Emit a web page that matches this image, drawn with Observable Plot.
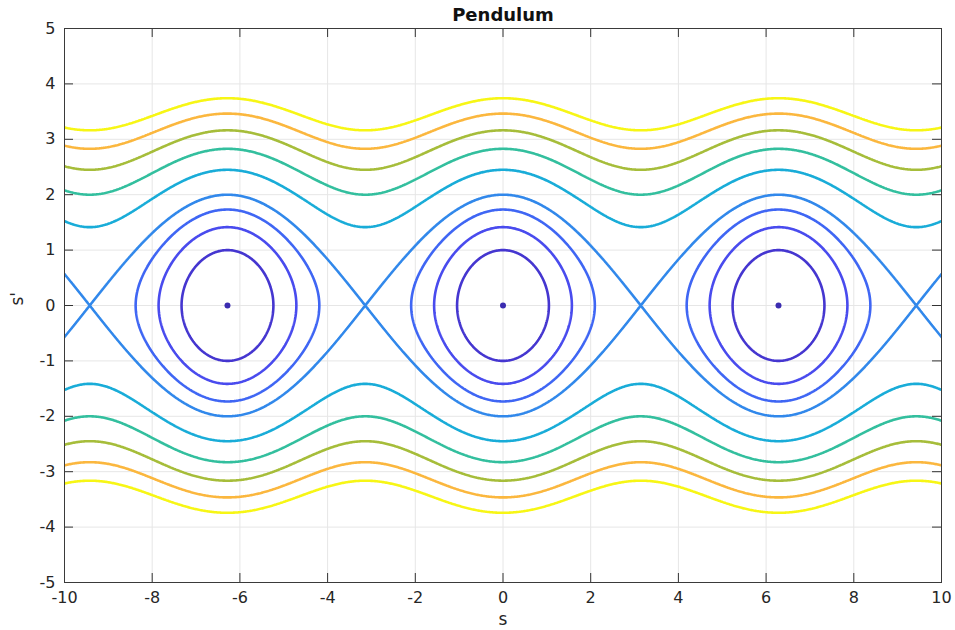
<!DOCTYPE html>
<html>
<head>
<meta charset="utf-8">
<script src="https://cdn.jsdelivr.net/npm/d3@7"></script>
<script src="https://cdn.jsdelivr.net/npm/@observablehq/plot@0.6"></script>
<style>
  html, body { margin: 0; padding: 0; background: #fff; }
  #chart { width: 955px; height: 630px; }
</style>
</head>
<body>
<div id="chart"></div>
<script>
// Energy levels of the contours (E = s'^2/2 - cos s)
const levels = [-0.5, 0, 0.5, 1, 2, 3, 4, 5, 6];
const levelColors = ["#4536d0", "#494bee", "#3f66f4", "#3188eb", "#19acd8", "#33bf9e", "#a6bd3a", "#fbb73e", "#f7f615"];
// Equilibrium points (s, s') drawn as dots
const eqS = [-6.2832, 0, 6.2832];
const eqV = [0, 0, 0];
const dotColor = "#3b2cb0";
// Tick values
const xTicks = [-10, -8, -6, -4, -2, 0, 2, 4, 6, 8, 10];
const yTicks = [-5, -4, -3, -2, -1, 0, 1, 2, 3, 4, 5];
const titleText = "Pendulum";
const xLabel = "s";
const yLabel = "s'";

const energy = (s, v) => v * v / 2 - Math.cos(s);

const W = 955, H = 630;
const mL = 64, mR = 14, mT = 28, mB = 48;
const plotH = H - mT - mB, plotW = W - mL - mR;
const tickLen = 9;
const font = "'DejaVu Sans', 'Liberation Sans', Arial, sans-serif";
const fmt = d => String(d);

const eq = eqS.map((s, i) => ({s, v: eqV[i]}));

const marks = [
  Plot.gridX(xTicks, {stroke: "#e6e6e6", strokeOpacity: 1}),
  Plot.gridY(yTicks, {stroke: "#e6e6e6", strokeOpacity: 1}),
  ...levels.map((t, i) => Plot.contour({
    x1: -11, x2: 11, y1: -6, y2: 6,
    value: energy,
    thresholds: [t],
    fill: "none",
    stroke: levelColors[i],
    strokeWidth: 2.6,
    pixelSize: 1,
    clip: true
  })),
  Plot.dot(eq, {x: "s", y: "v", r: 3, fill: dotColor, stroke: "none"}),
  // inward ticks (MATLAB style)
  Plot.ruleX(xTicks, {stroke: "#333", insetTop: plotH - tickLen}),
  Plot.ruleX(xTicks, {stroke: "#333", insetBottom: plotH - tickLen}),
  Plot.ruleY(yTicks, {stroke: "#333", insetRight: plotW - tickLen}),
  Plot.ruleY(yTicks, {stroke: "#333", insetLeft: plotW - tickLen}),
  Plot.frame({stroke: "#3a3a3a", strokeWidth: 1}),
  Plot.axisX(xTicks, {tickSize: 0, tickPadding: 9, tickFormat: fmt, fontSize: 16, label: null, fill: "#262626"}),
  Plot.axisY(yTicks, {tickSize: 0, tickPadding: 9, tickFormat: fmt, fontSize: 16, label: null, fill: "#262626"}),
  Plot.text([xLabel], {frameAnchor: "bottom", lineAnchor: "middle", dy: 37, text: d => d, fontSize: 17, fill: "#262626"}),
  Plot.text([yLabel], {frameAnchor: "left", lineAnchor: "middle", dx: -47, rotate: -90, text: d => d, fontSize: 17, fill: "#262626"}),
  Plot.text([titleText], {frameAnchor: "top", lineAnchor: "middle", dy: -13, text: d => d, fontWeight: "bold", fontSize: 18, fill: "#111"})
];

const chart = Plot.plot({
  width: W, height: H,
  marginLeft: mL, marginRight: mR, marginTop: mT, marginBottom: mB,
  style: {fontFamily: font, background: "#fff", color: "#262626", fontSize: "16px"},
  x: {domain: [-10, 10]},
  y: {domain: [-5, 5]},
  marks
});
document.getElementById("chart").appendChild(chart);
</script>
</body>
</html>
